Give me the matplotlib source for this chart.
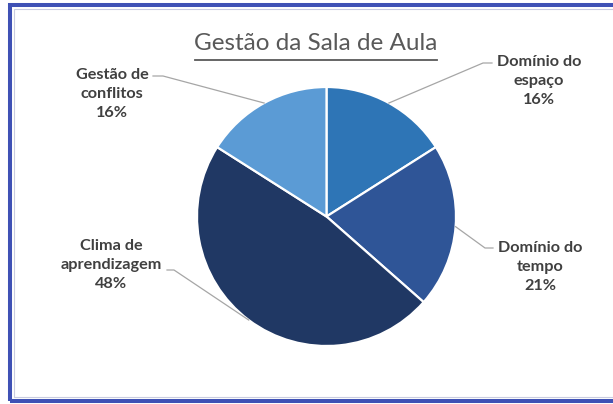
import numpy as np
import matplotlib
matplotlib.use("Agg")
import matplotlib.pyplot as plt
from matplotlib.patches import Rectangle
from matplotlib.lines import Line2D

# data
title = "Gestão da Sala de Aula"
categories = ["Domínio do\nespaço", "Domínio do\ntempo", "Clima de\naprendizagem", "Gestão de\nconflitos"]
shares = [16, 20.5, 47.5, 16]          # slice sizes
pct_labels = ["16%", "21%", "48%", "16%"]
colors = ["#2E75B6", "#2F5597", "#203864", "#5B9BD5"]

W, H = 613, 404
fig = plt.figure(figsize=(W / 100, H / 100), dpi=100)

def fx(x):
    return x / W

def fy(y):
    return 1 - y / H

# pie geometry in pixels
cx, cy, r = 326.5, 216.5, 129.5
ax = fig.add_axes([fx(cx - r), fy(cy + r), 2 * r / W, 2 * r / H])
wedges, _ = ax.pie(shares, colors=colors, startangle=90, counterclock=False,
                   wedgeprops=dict(edgecolor="white", linewidth=1.6))
ax.set_xlim(-1, 1)
ax.set_ylim(-1, 1)
for w in wedges:
    w.set_clip_on(False)

def to_data(x, y):
    return (x - cx) / r, (cy - y) / r

# label text positions (middle line), and leader end + elbow (pixels)
text_pos = [(539, 81), (540, 267), (111, 265), (112, 94)]
leader_end = [(492, 63), (493, 248), (167, 270), (153, 76)]
elbow = [(483, 63), (485, 248), (174, 270), (163, 76)]

txt_color = "#404040"
for i, w in enumerate(wedges):
    th = np.deg2rad((w.theta1 + w.theta2) / 2)
    sx, sy = np.cos(th), np.sin(th)
    ex, ey = to_data(*elbow[i])
    lx, ly = to_data(*leader_end[i])
    ax.add_line(Line2D([sx, ex, lx], [sy, ey, ly], color="#A6A6A6", lw=0.9, clip_on=False))
    tx, ty = text_pos[i]
    fig.text(fx(tx), fy(ty), categories[i] + "\n" + pct_labels[i], ha="center", va="center",
             fontsize=11.7, fontweight="bold", family="Lato", color=txt_color, linespacing=1.42)

# title with underline
t = fig.text(fx(316), fy(43), title, ha="center", va="center", fontsize=17.5,
             family="Lato", color="#595959")
fig.canvas.draw()
bb = t.get_window_extent()
fig.add_artist(Line2D([(bb.x0 + 1) / W, (bb.x1 - 1) / W], [fy(60), fy(60)], color="#595959", lw=1.3))

# frame
fig.add_artist(Rectangle((fx(10), fy(400.5)), fx(640), fy(5) - fy(400.5), fill=False,
                         edgecolor="#3F51B5", lw=2.9, transform=fig.transFigure))
fig.add_artist(Rectangle((fx(13.5), fy(397)), fx(640), fy(8.5) - fy(397), fill=False,
                         edgecolor="#C9CCE0", lw=0.8, transform=fig.transFigure))

fig.savefig("out.png", dpi=100)
